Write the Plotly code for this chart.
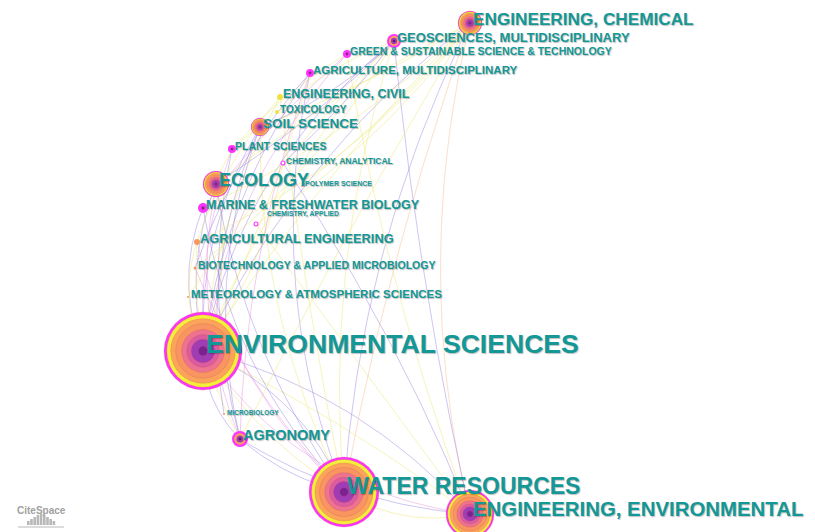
import plotly.graph_objects as go

# subject categories (node label, position in layout px, node radius, ring style, label size)
names = [
    "ENVIRONMENTAL SCIENCES", "WATER RESOURCES", "ENGINEERING, ENVIRONMENTAL",
    "ENGINEERING, CHEMICAL", "GEOSCIENCES, MULTIDISCIPLINARY",
    "GREEN & SUSTAINABLE SCIENCE & TECHNOLOGY", "AGRICULTURE, MULTIDISCIPLINARY",
    "ENGINEERING, CIVIL", "TOXICOLOGY", "SOIL SCIENCE", "PLANT SCIENCES",
    "CHEMISTRY, ANALYTICAL", "ECOLOGY", "POLYMER SCIENCE",
    "MARINE & FRESHWATER BIOLOGY", "CHEMISTRY, APPLIED", "AGRICULTURAL ENGINEERING",
    "BIOTECHNOLOGY & APPLIED MICROBIOLOGY", "METEOROLOGY & ATMOSPHERIC SCIENCES",
    "MICROBIOLOGY", "AGRONOMY",
]
node_x = [203, 344, 470, 470, 394, 347, 310, 280, 277, 260, 232, 283, 216, 302, 203, 256, 197, 195, 188, 224, 240]
node_y = [351, 492, 514, 23, 41, 54, 73, 97, 112, 127, 149, 163, 184, 186, 208, 224, 242, 268, 297, 414, 439]
node_r = [39, 35, 24, 12, 7, 4, 4, 3, 2, 9, 4, 2.5, 13, 1, 5, 2.5, 3, 1.5, 1, 1, 8]
node_kind = ["full", "full", "full", "full", "small", "magenta", "magenta", "yellow", "yellow",
             "full", "magenta", "ring", "full", "dot", "magenta", "ring", "orange", "orange",
             "dot", "dot", "small"]
label_size = [26.6, 23, 20.4, 17.2, 13, 10.5, 11.5, 12.5, 10, 13.5, 10.5, 8.5, 18, 7, 12.5, 6.8, 12.8, 10.5, 11.5, 6.5, 14.5]

# co-occurrence links (source, target, colour group, bend)
edges = [
    (0, 3, "purple", 0.12), (0, 3, "yellow", 0.05), (0, 4, "purple", 0.18), (0, 4, "yellow", 0.08),
    (0, 5, "pink", 0.15), (0, 6, "purple", 0.12), (0, 6, "yellow", -0.05), (0, 7, "yellow", 0.1),
    (0, 9, "purple", 0.15), (0, 10, "pink", 0.1), (0, 12, "purple", 0.15), (0, 12, "yellow", -0.15),
    (0, 14, "purple", 0.2), (0, 16, "yellow", 0.2), (0, 1, "purple", -0.2), (0, 1, "yellow", 0.12),
    (0, 2, "purple", -0.15), (0, 2, "yellow", -0.05), (0, 20, "purple", 0.2), (0, 11, "yellow", -0.12),
    (1, 3, "purple", 0.1), (1, 3, "peach", 0.04), (1, 4, "yellow", 0.1), (1, 6, "purple", 0.15),
    (1, 9, "yellow", 0.12), (1, 12, "purple", 0.12), (1, 14, "purple", 0.15), (1, 16, "pink", 0.15),
    (1, 20, "purple", 0.12), (1, 2, "yellow", 0.2), (1, 7, "yellow", 0.02), (1, 17, "pink", 0.1),
    (2, 3, "peach", 0.12), (2, 4, "purple", 0.03), (2, 5, "yellow", 0.05), (2, 0, "pink", 0.22),
    (2, 20, "purple", 0.12), (2, 15, "yellow", 0.0), (2, 11, "purple", -0.05),
    (20, 9, "purple", 0.15), (20, 12, "pink", 0.15), (20, 10, "purple", 0.12), (20, 16, "yellow", 0.15),
    (20, 6, "pink", 0.08), (20, 3, "yellow", 0.02),
    (12, 3, "yellow", 0.05), (12, 4, "purple", -0.05), (12, 9, "yellow", 0.2), (14, 5, "pink", 0.05),
    (9, 3, "yellow", -0.05), (9, 4, "purple", -0.1), (10, 5, "yellow", 0.08), (16, 7, "yellow", 0.1),
    (17, 6, "purple", 0.1), (18, 4, "yellow", 0.05), (19, 9, "purple", 0.15), (15, 3, "yellow", -0.1),
    (13, 3, "yellow", -0.05), (11, 4, "purple", -0.05), (8, 4, "yellow", 0.1),
    (16, 3, "yellow", -0.12), (14, 3, "yellow", -0.08), (17, 4, "yellow", -0.1),
]

edge_colors = {
    "purple": "rgba(150,125,225,0.45)",
    "yellow": "rgba(238,232,120,0.5)",
    "pink": "rgba(228,140,225,0.45)",
    "peach": "rgba(250,190,150,0.5)",
}

ring_styles = {
    "full": [(1.0, "#ff33ff"), (0.93, "#f5ef3c"), (0.83, "#fca45c"), (0.7, "#f99560"),
             (0.55, "#ee7390"), (0.42, "#dc5ca0"), (0.3, "#a03cb4"), (0.12, "#7a2290")],
    "small": [(1.0, "#ff33ff"), (0.72, "#fca45c"), (0.45, "#a03cb4"), (0.18, "#5a1870")],
    "magenta": [(1.0, "#ff33ff"), (0.35, "#8a2a80")],
    "ring": [(1.0, "#ff33ff"), (0.55, "#ffffff")],
    "yellow": [(1.0, "#f0e040")],
    "orange": [(1.0, "#f79a5a")],
    "dot": [(1.0, "#f79a5a")],
}

label_shift = {15: (10, -10), 13: (2, -3)}

# the page body adds an 8px margin, so the axes are shifted by the same amount
pad = 8

fig = go.Figure()

# links as quadratic curves
for s, t, grp, bend in edges:
    x0, y0, x1, y1 = node_x[s], node_y[s], node_x[t], node_y[t]
    if y1 > y0:
        x0, y0, x1, y1 = x1, y1, x0, y0
    dx, dy = x1 - x0, y1 - y0
    cx = (x0 + x1) / 2 + bend * dy
    cy = (y0 + y1) / 2 - bend * dx
    xs, ys = [], []
    for i in range(41):
        u = i / 40
        xs.append((1 - u) ** 2 * x0 + 2 * u * (1 - u) * cx + u ** 2 * x1)
        ys.append((1 - u) ** 2 * y0 + 2 * u * (1 - u) * cy + u ** 2 * y1)
    fig.add_trace(go.Scatter(x=xs, y=ys, mode="lines", hoverinfo="skip",
                             line=dict(color=edge_colors[grp], width=1)))

# nodes as concentric rings
for i, name in enumerate(names):
    layers = ring_styles[node_kind[i]]
    sizes = [2 * node_r[i] * f for f, c in layers]
    cols = [c for f, c in layers]
    line_col = "rgba(190,70,70,0.35)" if node_kind[i] == "full" else "rgba(0,0,0,0)"
    fig.add_trace(go.Scatter(
        x=[node_x[i]] * len(layers), y=[node_y[i]] * len(layers), mode="markers",
        hovertext=name, hoverinfo="text",
        marker=dict(size=sizes, color=cols, opacity=1,
                    line=dict(color=line_col, width=0.6)),
    ))

# labels
for i, name in enumerate(names):
    ddx, ddy = label_shift.get(i, (2, -0.25 * label_size[i]))
    fig.add_annotation(
        x=node_x[i] + ddx, y=node_y[i] + ddy, text=name, showarrow=False,
        xanchor="left", yanchor="middle", borderpad=0,
        font=dict(family="Liberation Sans, Arial", size=label_size[i], color="#139797",
                  weight="bold", shadow="1px 1px 1px rgba(0,0,0,0.25)"),
    )

# CiteSpace logo
fig.add_annotation(x=41, y=510, text="CiteSpace", showarrow=False,
                   xanchor="center", yanchor="middle",
                   font=dict(family="Liberation Sans, Arial", size=10, color="#a0a0a0",
                             weight="bold"))
bar_h = [4, 6, 8, 10, 11, 10, 8, 6, 4]
for k, h in enumerate(bar_h):
    bx = 27 + k * 3.2
    fig.add_shape(type="rect", x0=bx, x1=bx + 2.6, y0=525, y1=525 - h,
                  line_width=0, fillcolor="#b8b8b8")
fig.add_shape(type="line", x0=18, x1=64, y0=527, y1=527,
              line=dict(color="#b8b8b8", width=1))

fig.update_layout(
    width=815, height=532,
    margin=dict(l=0, r=0, t=0, b=0),
    paper_bgcolor="white", plot_bgcolor="white",
    showlegend=False,
    xaxis=dict(range=[pad, 815 + pad], visible=False, fixedrange=True),
    yaxis=dict(range=[532 + pad, pad], visible=False, fixedrange=True),
)

fig.write_html("out.html")
